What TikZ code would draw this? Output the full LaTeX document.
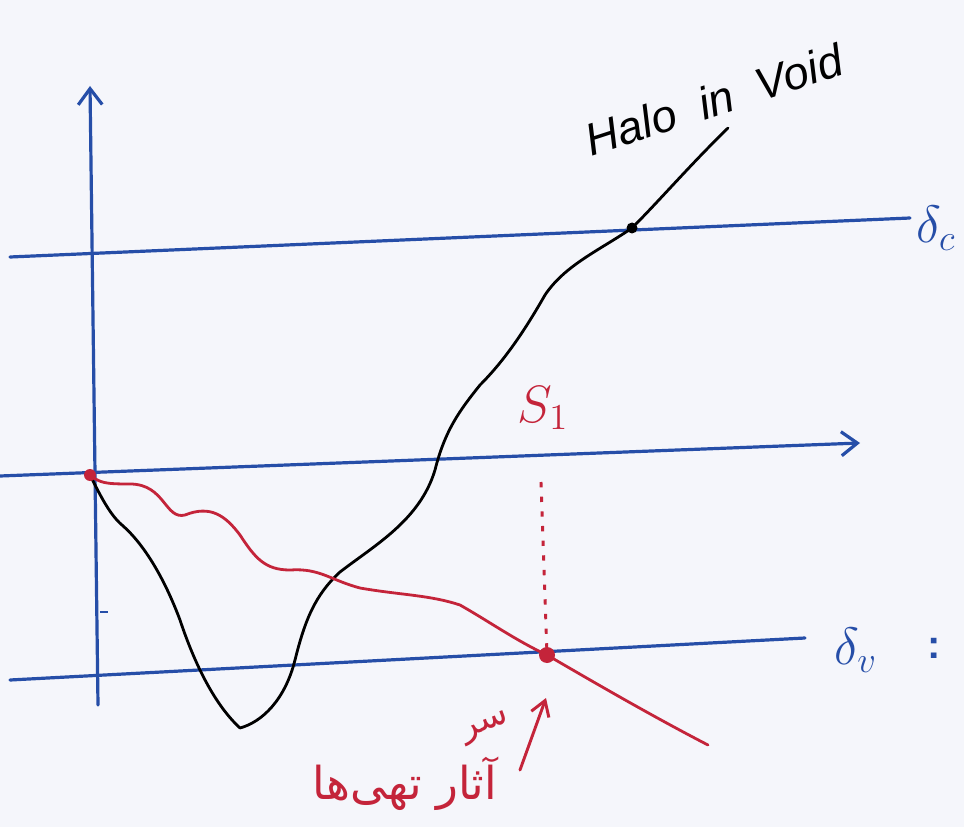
\documentclass[tikz,border=0pt]{standalone}
\usepackage{fontspec}
\setmainfont{Liberation Sans}
\newfontfamily\arabicfont[Script=Arabic]{DejaVu Sans}
\TeXXeTstate=1
\usetikzlibrary{arrows.meta}
\definecolor{penblue}{RGB}{38,78,168}
\definecolor{penred}{RGB}{196,36,58}
\definecolor{paper}{RGB}{245,246,251}
\tikzset{
  blueline/.style={draw=penblue, line width=2.4pt, line cap=round},
  redline/.style={draw=penred, line width=2.1pt, line cap=round, line join=round},
  blackline/.style={draw=black, line width=2.1pt, line cap=round, line join=round},
  openhead/.style={-{Straight Barb[length=12pt,width=18pt,line width=2.4pt]}},
  lbl/.style={inner sep=1pt, scale=1.9, font=\fontsize{22}{24}\selectfont}
}
\begin{document}
\begin{tikzpicture}[x=0.75pt,y=-0.75pt]
\fill[paper] (0,0) rectangle (964,827);
\useasboundingbox (0,0) rectangle (964,827);

% coordinates
\coordinate (yb) at (98,705);
\coordinate (yt) at (90,86);
\coordinate (dcl) at (10,257);
\coordinate (dcr) at (910,218);
\coordinate (ml) at (0,476);
\coordinate (mr) at (860,443);
\coordinate (dvl) at (10,680);
\coordinate (dvr) at (805,638);
\coordinate (O) at (90,475);
\coordinate (X) at (547,655);
\coordinate (C) at (632,228);
\coordinate (dtop) at (541,482);
\coordinate (ab) at (520,770);
\coordinate (at) at (546,698);

% axes and levels
\draw[blueline, openhead] (yb) -- (yt);
\draw[blueline] (dcl) -- (dcr);
\draw[blueline, openhead] (ml) -- (mr);
\draw[blueline] (dvl) -- (dvr);
\draw[penblue, line width=1.2pt] (100,612) -- (108,612);

% black curve (halo in void)
\draw[blackline] (O) .. controls (100,495) and (110,515) .. (122,525)
  .. controls (145,545) and (165,580) .. (180,620)
  .. controls (195,665) and (215,705) .. (240,728)
  .. controls (262,722) and (285,700) .. (295,660)
  .. controls (305,620) and (315,595) .. (340,572)
  .. controls (375,545) and (420,520) .. (435,470)
  .. controls (445,430) and (460,410) .. (480,385)
  .. controls (505,360) and (525,330) .. (545,295)
  .. controls (565,265) and (600,250) .. (C)
  .. controls (660,200) and (690,165) .. (728,128);
\fill (C) circle (5.5);

% red curve
\draw[redline] (O) .. controls (100,483) and (105,484) .. (130,484)
  .. controls (165,484) and (165,520) .. (185,515)
  .. controls (210,505) and (225,515) .. (240,535)
  .. controls (255,558) and (265,570) .. (290,570)
  .. controls (320,568) and (330,580) .. (360,588)
  .. controls (400,595) and (430,595) .. (460,605)
  .. controls (490,622) and (515,640) .. (X)
  .. controls (590,680) and (650,715) .. (708,745);
\fill[penred] (O) circle (6);
\fill[penred] (X) circle (8);

% dotted drop line
\draw[penred, line width=2.2pt, dash pattern=on 4pt off 7pt] (dtop) -- (X);

% red arrow
\draw[redline, line width=2.2pt, -{Straight Barb[length=11pt,width=14pt,line width=2.2pt]}] (ab) -- (at);

% labels
\node[lbl, text=penred] (s1) at (543,408) {$S_1$};
\node[lbl, text=penblue] (dc) at (936,228) {$\delta_c$};
\node[lbl, text=penblue] (dv) at (856,650) {$\delta_v$};
\node[inner sep=1pt, text=penblue, font=\fontsize{30}{32}\selectfont\bfseries] (colon) at (934,648) {:};
\node[inner sep=1pt, rotate=18, font=\fontsize{34}{36}\selectfont\itshape] (halo) at (714,100) {Halo\ \ in\ \ Void};
\node[inner sep=1pt, text=penred, rotate=20, font=\arabicfont\fontsize{26}{28}\selectfont] (sar) at (486,728) {\beginR سر\endR};
\node[inner sep=1pt, text=penred, font=\arabicfont\fontsize{34}{36}\selectfont] (fa) at (405,784) {\beginR آثار تهی‌ها\endR};
\end{tikzpicture}
\end{document}
